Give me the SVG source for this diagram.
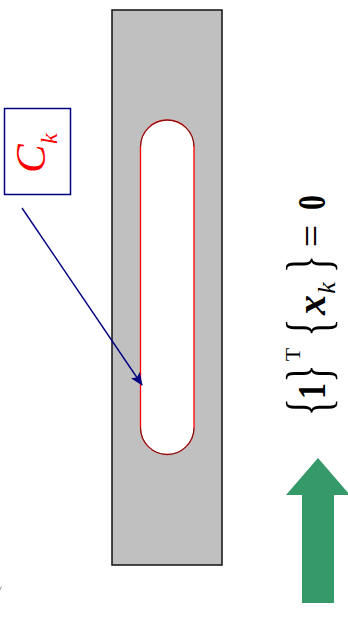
<svg xmlns="http://www.w3.org/2000/svg" width="348" height="618" viewBox="0 0 348 618">
  <style>
    .serif { font-family: "Liberation Serif", "Times New Roman", serif; }
    .eq { fill: #000; text-anchor: middle; }
    .brace { font-size: 62px; }
    .main { font-size: 40px; }
  </style>
  <defs>
    <marker id="navyHead" viewBox="0 0 13 11" refX="12" refY="5.5" markerWidth="13" markerHeight="11" markerUnits="userSpaceOnUse" orient="auto">
      <path d="M0,0 L13,5.5 L0,11 L3,5.5 Z" fill="#000080"/>
    </marker>
  </defs>
  <rect width="348" height="618" fill="#fff"/>

  <!-- plate with slot -->
  <g id="plate">
    <rect x="112" y="10" width="110" height="555" fill="#c0c0c0" stroke="#111" stroke-width="1.5"/>
    <path d="M140.5,146.75 A26.75,26.75 0 0 1 194,146.75 L194,427.75 A26.75,26.75 0 0 1 140.5,427.75 Z" fill="#fff" stroke="#ff0000" stroke-width="1.3"/>
    <path d="M140.5,146.75 A26.75,26.75 0 0 1 194,146.75 M194,427.75 A26.75,26.75 0 0 1 140.5,427.75" fill="none" stroke="#222" stroke-width="0.9" stroke-opacity="0.75"/>
  </g>

  <!-- label box -->
  <g id="label-ck">
    <rect x="4.5" y="108.5" width="66" height="86" fill="#fff" stroke="#000080" stroke-width="1.5"/>
    <g transform="translate(45,173) rotate(-90)" class="serif" fill="#ff0000" font-style="italic">
      <text x="0" y="0" font-size="43">C</text>
      <text x="29" y="12" font-size="24">k</text>
    </g>
  </g>

  <!-- connectors -->
  <g id="connectors">
    <line x1="22" y1="208" x2="142" y2="385" stroke="#000080" stroke-width="1.4" marker-end="url(#navyHead)"/>
  </g>

  <!-- constraint equation -->
  <g id="equation" class="serif eq" transform="translate(325,440) rotate(-90)">
    <text class="brace" transform="translate(33,4) scale(0.6,1)">{</text>
    <text class="main" font-weight="bold" transform="translate(49,0) scale(0.8,1)">1</text>
    <text class="brace" transform="translate(66.5,4) scale(0.6,1)">}</text>
    <text x="85.5" y="-25" font-size="22">T</text>
    <text class="brace" transform="translate(112.5,4) scale(0.6,1)">{</text>
    <text class="main" x="135" y="0" font-weight="bold" font-style="italic">x</text>
    <text x="152" y="10" font-size="26" font-style="italic">k</text>
    <text class="brace" transform="translate(176,4) scale(0.6,1)">}</text>
    <text class="main" x="204" y="0">=</text>
    <text class="main" font-weight="bold" transform="translate(237.5,0) scale(0.75,1)">0</text>
  </g>

  <!-- load direction arrow -->
  <g id="load-arrow">
    <path d="M318,458 L350,495 L334,495 L334,603 L302,603 L302,495 L286,495 Z" fill="#36996a"/>
  </g>

  <path d="M0,590 L1.5,586.5" stroke="#999" stroke-width="1"/>
</svg>
